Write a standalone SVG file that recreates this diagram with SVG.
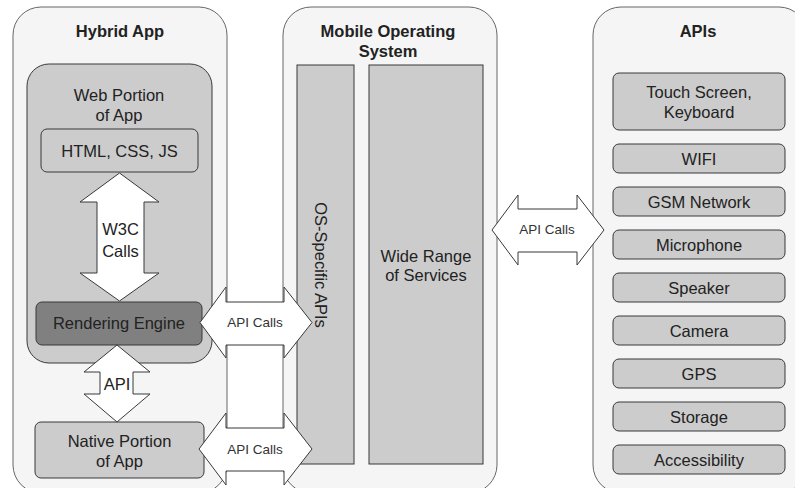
<svg xmlns="http://www.w3.org/2000/svg" width="795" height="488" viewBox="0 0 795 488">
  <style>
    .frame { fill: #f5f5f5; stroke: #666666; stroke-width: 1; }
    .box { fill: #cccccc; stroke: #36393d; stroke-width: 1; }
    .dark { fill: #808080; stroke: #36393d; stroke-width: 1; }
    .arrow { fill: #ffffff; stroke: #36393d; stroke-width: 1; stroke-linejoin: miter; }
    text { font-family: "Liberation Sans", Arial, Helvetica, sans-serif; fill: #222222; text-anchor: middle; }
    .title { font-size: 16.5px; font-weight: bold; }
    .label { font-size: 16.5px; }
    .small { font-size: 13.5px; fill: #333333; }
  </style>

  <!-- outer columns -->
  <g id="hybrid-app">
    <rect class="frame" x="13" y="7" width="214" height="486" rx="28" ry="28"/>
    <text class="title" x="120" y="37">Hybrid App</text>
  </g>
  <g id="mobile-os">
    <rect class="frame" x="283" y="7" width="214" height="486" rx="28" ry="28"/>
    <text class="title" x="388" y="37">Mobile Operating</text>
    <text class="title" x="388" y="57">System</text>
  </g>
  <g id="apis">
    <rect class="frame" x="593" y="7" width="214" height="486" rx="28" ry="28"/>
    <text class="title" x="698" y="37">APIs</text>
  </g>

  <!-- hybrid app contents -->
  <g id="web-portion">
    <rect class="box" x="27" y="64" width="185" height="299" rx="22" ry="22"/>
    <text class="label" x="119" y="101">Web Portion</text>
    <text class="label" x="119" y="121">of App</text>
  </g>
  <g id="html-css-js">
    <rect class="box" x="41" y="129" width="157" height="43" rx="6" ry="6"/>
    <text class="label" x="119.5" y="157">HTML, CSS, JS</text>
  </g>
  <g id="rendering-engine">
    <rect class="dark" x="36" y="302" width="166" height="43" rx="6" ry="6"/>
    <text class="label" x="119" y="329">Rendering Engine</text>
  </g>
  <g id="native-portion">
    <rect class="box" x="35" y="422" width="169" height="56" rx="6" ry="6"/>
    <text class="label" x="119.5" y="447">Native Portion</text>
    <text class="label" x="119.5" y="467">of App</text>
  </g>

  <!-- operating system contents -->
  <g id="os-specific-apis">
    <rect class="box" x="297" y="65" width="57" height="399"/>
    <text class="label" transform="translate(315,265) rotate(90)" x="0" y="0">OS-Specific APIs</text>
  </g>
  <g id="wide-range">
    <rect class="box" x="369" y="65" width="114" height="399"/>
    <text class="label" x="426" y="262">Wide Range</text>
    <text class="label" x="426" y="281">of Services</text>
  </g>

  <!-- device APIs -->
  <g id="touch-screen">
    <rect class="box" x="613" y="73" width="172" height="57" rx="6" ry="6"/>
    <text class="label" x="699" y="98">Touch Screen,</text>
    <text class="label" x="699" y="118">Keyboard</text>
  </g>
  <g id="wifi">
    <rect class="box" x="613" y="144" width="172" height="29" rx="6" ry="6"/>
    <text class="label" x="699" y="165">WIFI</text>
  </g>
  <g id="gsm">
    <rect class="box" x="613" y="187" width="172" height="29" rx="6" ry="6"/>
    <text class="label" x="699" y="208">GSM Network</text>
  </g>
  <g id="microphone">
    <rect class="box" x="613" y="230" width="172" height="29" rx="6" ry="6"/>
    <text class="label" x="699" y="251">Microphone</text>
  </g>
  <g id="speaker">
    <rect class="box" x="613" y="273" width="172" height="29" rx="6" ry="6"/>
    <text class="label" x="699" y="294">Speaker</text>
  </g>
  <g id="camera">
    <rect class="box" x="613" y="316" width="172" height="29" rx="6" ry="6"/>
    <text class="label" x="699" y="337">Camera</text>
  </g>
  <g id="gps">
    <rect class="box" x="613" y="359" width="172" height="29" rx="6" ry="6"/>
    <text class="label" x="699" y="380">GPS</text>
  </g>
  <g id="storage">
    <rect class="box" x="613" y="402" width="172" height="29" rx="6" ry="6"/>
    <text class="label" x="699" y="423">Storage</text>
  </g>
  <g id="accessibility">
    <rect class="box" x="613" y="445" width="172" height="29" rx="6" ry="6"/>
    <text class="label" x="699" y="466">Accessibility</text>
  </g>

  <!-- connectors: block double arrows -->
  <g id="connectors">
    <polygon class="arrow" points="119.5,173 159,202 144,202 144,273 159,273 119.5,301 80,273 97,273 97,202 80,202"/>
    <text class="label" x="120.5" y="235">W3C</text>
    <text class="label" x="120.5" y="257">Calls</text>

    <polygon class="arrow" points="117,345 150,372 133,372 133,394 150,394 117,422 84,394 100,394 100,372 84,372"/>
    <text class="label" x="117" y="390">API</text>

    <polygon class="arrow" points="200,322.5 226,287 226,302 284,302 284,287 312,322.5 284,358 284,345 226,345 226,358"/>
    <text class="small" x="255" y="327">API Calls</text>

    <polygon class="arrow" points="199,449 226,413 226,428 284,428 284,413 312,449 284,485 284,471 226,471 226,485"/>
    <text class="small" x="255" y="454">API Calls</text>

    <polygon class="arrow" points="492,230 518,195 518,209 577,209 577,195 604,230 577,265 577,252 518,252 518,265"/>
    <text class="small" x="547" y="234">API Calls</text>
  </g>
</svg>
